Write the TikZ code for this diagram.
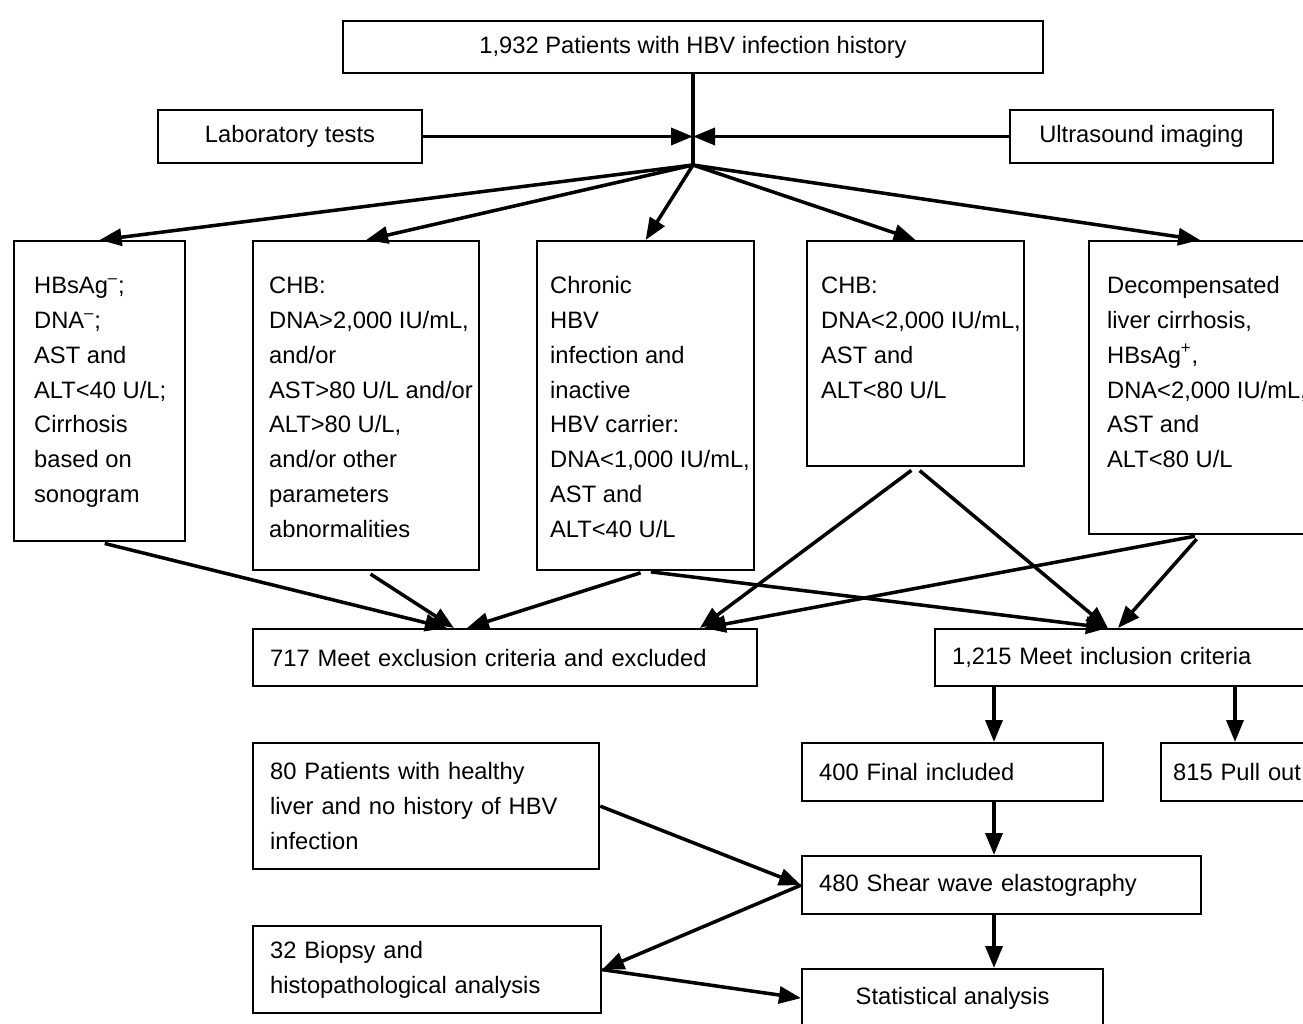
\documentclass[tikz,border=0pt]{standalone}
\usepackage{fontspec}
\setmainfont{Liberation Sans}
\usetikzlibrary{arrows.meta,calc}
\newcommand{\critlines}[4]{\hspace*{#1}\parbox[t][#2][t]{#3}{\rule{0pt}{1.04cm}#4}}
\tikzset{
  box/.style={draw=black,line width=1.3pt,fill=white,font=\fontsize{13.5pt}{19.9pt}\selectfont,inner xsep=0.34cm,inner ysep=0pt},
  headbox/.style={box,align=center},
  rowbox/.style={box,anchor=north west,align=left},
  critbox/.style={box,anchor=north west,inner sep=0pt},
  flowline/.style={line width=2pt,draw=black},
  flow/.style={flowline,-{Triangle[length=4.4mm,width=3.4mm]}},
  fromcrit/.style={flow,shorten <=3pt}
}
\begin{document}
\begin{tikzpicture}[x=0.02cm,y=-0.02cm]
  \useasboundingbox (0,0) rectangle (1303,1024);
  \clip (0,0) rectangle (1303,1024);
  \node[headbox,minimum width=14cm,minimum height=1.04cm] (hist) at (693,47) {1,932 Patients with HBV infection history};
  \node[headbox,minimum width=5.28cm,minimum height=1.06cm] (lab) at (290,136.5) {Laboratory tests};
  \node[headbox,minimum width=5.26cm,minimum height=1.06cm] (us) at (1141.5,136.5) {Ultrasound imaging};
  \coordinate (meet) at (693,136.5);
  \coordinate (j) at (693,165);
  \node[critbox] (a) at (13,240) {\critlines{0.4cm}{6cm}{3.02cm}{HBsAg\textsuperscript{--};\\DNA\textsuperscript{--};\\AST and\\ALT<40 U/L;\\Cirrhosis\\based on\\sonogram}};
  \node[critbox] (b) at (252,240) {\critlines{0.32cm}{6.58cm}{4.2cm}{CHB:\\DNA>2,000 IU/mL,\\and/or\\AST>80 U/L and/or\\ALT>80 U/L,\\and/or other\\parameters\\abnormalities}};
  \node[critbox] (c) at (536,240) {\critlines{0.26cm}{6.58cm}{4.08cm}{Chronic\\HBV\\infection and\\inactive\\HBV carrier:\\DNA<1,000 IU/mL,\\AST and\\ALT<40 U/L}};
  \node[critbox] (d) at (806,240) {\critlines{0.28cm}{4.5cm}{4.06cm}{CHB:\\DNA<2,000 IU/mL,\\AST and\\ALT<80 U/L}};
  \node[critbox] (e) at (1088,240) {\critlines{0.36cm}{5.86cm}{4.08cm}{Decompensated\\liver cirrhosis,\\HBsAg\textsuperscript{+},\\DNA<2,000 IU/mL,\\AST and\\ALT<80 U/L}};
  \node[rowbox,text width=9.4cm,minimum height=1.14cm] (excl) at (252,628) {717 Meet exclusion criteria and excluded};
  \node[rowbox,text width=6.84cm,minimum height=1.14cm] (incl) at (934,628) {1,215 Meet inclusion criteria};
  \node[rowbox,text width=5.34cm,minimum height=1.16cm] (fin) at (801,742) {400 Final included};
  \node[rowbox,text width=3.2cm,inner xsep=0.24cm,minimum height=1.16cm] (pull) at (1160,742) {815 Pull out};
  \node[rowbox,text width=6.24cm,minimum height=2.52cm] (hp) at (252,742) {80 Patients with healthy\\liver and no history of HBV\\infection};
  \node[rowbox,text width=7.3cm,minimum height=1.16cm] (swe) at (801,855) {480 Shear wave elastography};
  \node[rowbox,text width=6.28cm,minimum height=1.74cm] (bio) at (252,925) {32 Biopsy and\\histopathological analysis};
  \node[headbox,anchor=north west,minimum width=6.02cm,minimum height=1.16cm] (stats) at (801,968) {Statistical analysis};
  \coordinate (spine) at (994,0);
  \coordinate (pullx) at (1235,0);
  \draw[flowline] (hist.south) -- (j);
  \draw[flow] (lab) -- (meet);
  \draw[flow] (us) -- (meet);
  \foreach \k in {a,b,c,d,e}
    \draw[flow] (j) -- (\k.north);
  \draw[fromcrit] (a.south) -- ([xshift=3.9cm]excl.north west);
  \draw[fromcrit] (b.south) -- ([xshift=4.04cm]excl.north west);
  \draw[fromcrit] (c.south) -- ([xshift=4.3cm]excl.north west);
  \draw[fromcrit] (c.south) -- ([xshift=3.48cm]incl.north west);
  \draw[fromcrit] (d.south) -- ([xshift=8.96cm]excl.north west);
  \draw[fromcrit] (d.south) -- ([xshift=3.48cm]incl.north west);
  \draw[fromcrit] (e.south) -- ([xshift=9.04cm]excl.north west);
  \draw[fromcrit] (e.south) -- ([xshift=3.68cm]incl.north west);
  \draw[flow] (incl.south -| spine) -- (fin.north -| spine);
  \draw[flow] (incl.south -| pullx) -- (pull.north -| pullx);
  \draw[flow] (fin.south -| spine) -- (swe.north -| spine);
  \draw[flow] (swe.south -| spine) -- (stats.north -| spine);
  \draw[flow] (hp.east) -- (swe.west);
  \draw[flow] (swe.west) -- (bio.east);
  \draw[flow] (bio.east) -- (stats.west);
\end{tikzpicture}
\end{document}
